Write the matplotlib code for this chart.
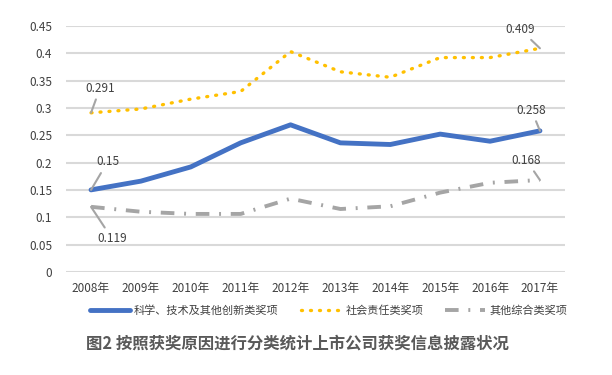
import matplotlib
matplotlib.use("Agg")
import matplotlib.pyplot as plt
import numpy as np

plt.rcParams['font.family'] = ['Noto Sans CJK SC', 'DejaVu Sans']

# data
years = ['2008年', '2009年', '2010年', '2011年', '2012年',
         '2013年', '2014年', '2015年', '2016年', '2017年']
tech = [0.15, 0.166, 0.192, 0.236, 0.269, 0.236, 0.233, 0.252, 0.239, 0.258]
social = [0.291, 0.298, 0.316, 0.330, 0.403, 0.366, 0.356, 0.392, 0.392, 0.409]
other = [0.119, 0.110, 0.106, 0.106, 0.134, 0.115, 0.120, 0.145, 0.163, 0.168]
names = ['科学、技术及其他创新类奖项', '社会责任类奖项', '其他综合类奖项']

fig = plt.figure(figsize=(6.12, 3.75), dpi=100)
ax = fig.add_axes([0.108, 0.275, 0.815, 0.656])

x = np.arange(len(years))
ax.plot(x, tech, color='#4472C4', lw=3.5, solid_capstyle='round', label=names[0])
ax.plot(x, social, color='#FFC000', lw=2.4, linestyle=(0, (0.3, 2.4)),
        dash_capstyle='round', label=names[1])
ax.plot(x, other, color='#A5A5A5', lw=2.8, linestyle=(0, (3.5, 2.5, 0.5, 2.5)),
        label=names[2])

ax.set_xlim(-0.5, len(years) - 0.5)
ax.set_ylim(0, 0.45)
ax.set_yticks(np.arange(0, 0.451, 0.05))
ax.set_yticklabels(['0', '0.05', '0.1', '0.15', '0.2', '0.25', '0.3', '0.35', '0.4', '0.45'])
ax.set_xticks(x)
ax.set_xticklabels(years)
ax.grid(axis='y', color='#D9D9D9', lw=1.5)
ax.set_axisbelow(True)
for s in ax.spines.values():
    s.set_visible(False)
ax.tick_params(length=0, labelsize=8.5, colors='#404040', pad=7)
ax.tick_params(axis='y', pad=10)

# data labels with leader lines
lab = dict(fontsize=8.5, color='#404040', ha='center', va='center')
arr = dict(arrowstyle='-', color='#A5A5A5', lw=1.5, shrinkA=1.5, shrinkB=0)
ax.annotate('0.291', xy=(0, social[0]), xytext=(0.18, 0.336), arrowprops=arr, **lab)
ax.annotate('0.15', xy=(0, tech[0]), xytext=(0.33, 0.201), arrowprops=arr, **lab)
ax.annotate('0.119', xy=(0, other[0]), xytext=(0.42, 0.061), arrowprops=arr, **lab)
ax.annotate('0.409', xy=(9, social[9]), xytext=(8.6, 0.444), arrowprops=arr, **lab)
ax.annotate('0.258', xy=(9, tech[9]), xytext=(8.83, 0.296), arrowprops=arr, **lab)
ax.annotate('0.168', xy=(9, other[9]), xytext=(8.73, 0.204), arrowprops=arr, **lab)

leg = fig.legend(loc='center', bbox_to_anchor=(0.537, 0.173), ncol=3, frameon=False,
                 fontsize=8, handlelength=3.6, columnspacing=2.0, handletextpad=0.4)
for t in leg.get_texts():
    t.set_color('#404040')

fig.text(0.486, 0.083, '图2 按照获奖原因进行分类统计上市公司获奖信息披露状况',
         ha='center', va='center', fontsize=11.8, fontweight='bold', color='#595959')

fig.savefig('out.png', dpi=100)
